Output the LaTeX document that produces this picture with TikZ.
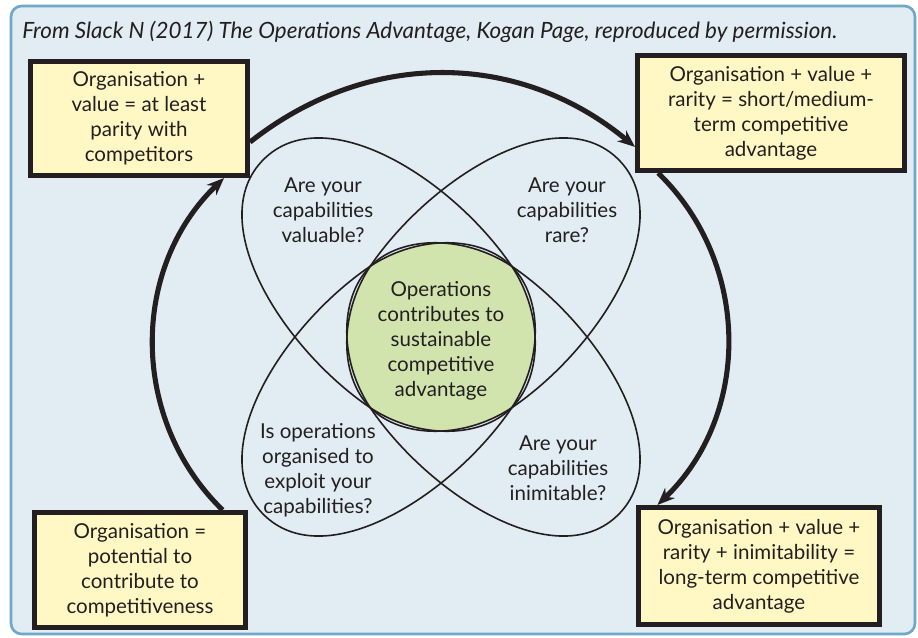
\documentclass[tikz,border=0pt]{standalone}
\usepackage{fontspec}
\setmainfont{Lato}
\usetikzlibrary{arrows.meta}

\definecolor{bgblue}{HTML}{E1ECF3}
\definecolor{frameblue}{HTML}{6FA8C8}
\definecolor{boxyellow}{HTML}{FFF8C4}
\definecolor{ink}{HTML}{231F20}
\definecolor{coregreen}{HTML}{D1E4AE}

\newcommand\boxfont{\fontsize{15.4}{18.75}\selectfont}
% one loop, blunt end at the middle, narrow end towards its corner
\newcommand\eggpath{(-100,0) .. controls (-100,45) and (-54,91) .. (5,101)
    .. controls (110,119) and (251,85) .. (251,0)
    .. controls (251,-85) and (110,-119) .. (5,-101)
    .. controls (-54,-91) and (-100,-45) .. cycle}

\tikzset{
  outcome/.style={draw=ink, fill=boxyellow, line width=4pt, align=center, inner sep=0pt, text=ink, font=\boxfont},
  question/.style={align=center, inner sep=0pt, text=ink, font=\boxfont},
  ring/.style={draw=ink, line width=1.2pt},
  flow/.style={draw=ink, line width=3.8pt, -{Stealth[length=13pt,width=10.5pt]}},
}

\begin{document}
\begin{tikzpicture}[x=0.75pt, y=-0.75pt]
    \useasboundingbox (0,0) rectangle (918,638);
    \draw[frameblue, fill=bgblue, line width=2pt, rounded corners=8pt] (11,6) rectangle (915,634);

    \node[anchor=west, inner sep=0pt, text=ink, font=\itshape\fontsize{16.8}{20}\selectfont] (source) at (22,32)
        {From Slack N (2017) The Operations Advantage, Kogan Page, reproduced by permission.};

    % common core of the four loops
    \begin{scope}
        \clip[shift={(441,337)}, rotate=135] \eggpath;
        \clip[shift={(441,337)}, rotate=45] \eggpath;
        \clip[shift={(441,337)}, rotate=-135] \eggpath;
        \clip[shift={(441,337)}, rotate=-45] \eggpath;
        \fill[coregreen] (250,150) rectangle (640,530);
    \end{scope}

    \foreach \ang in {135, 45, -135, -45}
        \draw[ring, shift={(441,337)}, rotate=\ang] \eggpath;

    \node[question] (valuable) at (323,210) {Are your\\capabilities\\valuable?};
    \node[question] (rare) at (567,210) {Are your\\capabilities\\rare?};
    \node[question] (organised) at (318,470) {Is operations\\organised to\\exploit your\\capabilities?};
    \node[question] (inimitable) at (558,468) {Are your\\capabilities\\inimitable?};
    \node[question] (core) at (441,341) {Operations\\contributes to\\sustainable\\competitive\\advantage};

    \node[outcome, minimum width=162.5pt, minimum height=85.3pt] (parity) at (139,118.5)
        {Organisation +\\value = at least\\parity with\\competitors};
    \node[outcome, minimum width=200pt, minimum height=86pt] (shortterm) at (771,113)
        {Organisation + value +\\rarity = short/medium-\\term competitive\\advantage};
    \node[outcome, minimum width=158pt, minimum height=86pt] (potential) at (140,570)
        {Organisation =\\potential to\\contribute to\\competitiveness};
    \node[outcome, minimum width=180.5pt, minimum height=87.5pt] (longterm) at (759,566)
        {Organisation + value +\\rarity + inimitability =\\long-term competitive\\advantage};

    \draw[flow] (parity.-12) to[bend left=39] (shortterm.194);
    \draw[flow] (shortterm.208) to[bend left=46] (longterm.149);
    \draw[flow] (potential.36) to[bend left=46] (parity.-35);
\end{tikzpicture}
\end{document}
